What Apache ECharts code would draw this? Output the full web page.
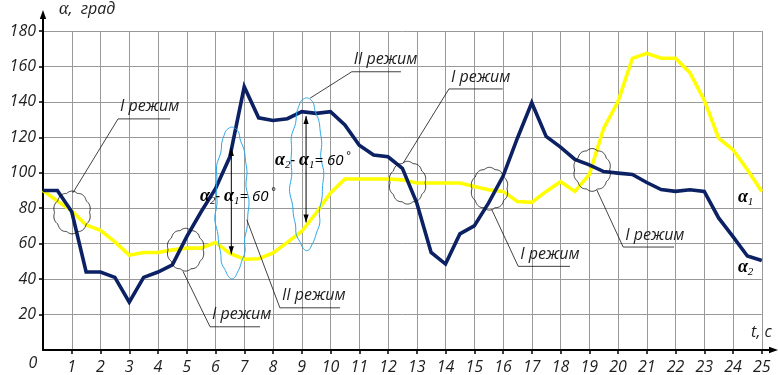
<!DOCTYPE html>
<html>
<head>
<meta charset="utf-8">
<script src="https://cdn.jsdelivr.net/npm/echarts@6/dist/echarts.min.js"></script>
<style>
  html, body { margin: 0; padding: 0; background: #fff; }
  #chart { width: 778px; height: 375px; }
</style>
</head>
<body>
<div id="chart"></div>
<script>
// time, s
const timeSec = [
  0, 0.5, 1, 1.5, 2, 2.5, 3, 3.5, 4, 4.5,
  5, 5.5, 6, 6.5, 7, 7.5, 8, 8.5, 9, 9.5,
  10, 10.5, 11, 11.5, 12, 12.5, 13, 13.5, 14, 14.5,
  15, 15.5, 16, 16.5, 17, 17.5, 18, 18.5, 19, 19.5,
  20, 20.5, 21, 21.5, 22, 22.5, 23, 23.5, 24, 24.5, 25
];

// α1, degrees (yellow)
const alpha1 = [
  90, 84, 78.5, 70.5, 67.5, 61, 53.5, 55, 55, 56.5,
  57.5, 57.5, 60.7, 54.5, 51.2, 51.5, 54.8, 60.7, 67, 77.3,
  88.6, 96.5, 96.5, 96.5, 96.5, 96, 94.2, 94.2, 94.2, 94.2,
  92.3, 90.4, 89.5, 83.8, 83.3, 89.5, 95, 89.5, 98.9, 125,
  140.2, 164.6, 167.4, 164.6, 164.6, 156.5, 141, 119.5, 113, 101.7, 89.5
];

// α2, degrees (navy)
const alpha2 = [
  90, 90, 78, 44, 44, 41, 27, 41, 44, 48,
  64, 78, 91, 109, 148.5, 131, 129.5, 130.5, 134.5, 133.5,
  134.5, 127, 115.5, 110, 109, 102.5, 83, 55, 48.5, 65.5,
  70, 83, 98, 119.5, 139.5, 120.5, 114.5, 107.5, 104.5, 100.7,
  99.8, 99, 94.5, 90.5, 89.5, 90.4, 89.5, 74.5, 64, 53, 50.5
];

// operating-mode callouts: underline [tStart, tEnd, value], leader end [t, value]
const modeNotes = [
  { text: 'I режим',  under: [2.61, 4.42, 130.4],  leader: [1.04, 88.7] },
  { text: 'II режим', under: [10.74, 12.45, 157.0], leader: [9.29, 142.1] },
  { text: 'I режим',  under: [14.12, 15.99, 147.3], leader: [12.53, 105.5] },
  { text: 'II режим', under: [8.24, 10.33, 23.8],   leader: [7.09, 73.5] },
  { text: 'I режим',  under: [5.81, 7.55, 13.1],    leader: [4.87, 44.4] },
  { text: 'I режим',  under: [16.53, 18.33, 47.2],  leader: [15.61, 79.2] },
  { text: 'I режим',  under: [20.18, 21.95, 58.1],  leader: [19.26, 90.4] }
];

// crossing points of α1 and α2 circled on the plot [t, value]
const crossMarks = [
  [1.01, 77.6], [4.96, 56.6], [12.68, 94.4], [15.53, 91.0], [19.1, 101.6]
];

// mode II zones [t, centre value, half height]
const modeZones = [
  [6.57, 83.4, 42.8], [9.17, 99.6, 43.1]
];

// α2 − α1 measurement arrows [t, α1 end, difference]
const diffArrows = [
  [6.55, 54, 60], [9.15, 72, 60]
];
const diffLabels = [
  [5.46, 86.7], [8.07, 106.9]
];

const curveLabels = [
  { sub: '1', at: [24.17, 85.9] },
  { sub: '2', at: [24.17, 46.5] }
];

const sans = '"Open Sans", sans-serif';
const serif = '"Liberation Serif", serif';
const ink = '#1e1e1e';

const chart = echarts.init(document.getElementById('chart'), null, { renderer: 'canvas' });

const zip = (xs, ys) => xs.map((x, i) => [x, ys[i]]);

chart.setOption({
  animation: false,
  backgroundColor: '#fff',
  grid: { left: 43, right: 16.25, top: 31, bottom: 24.5, containLabel: false },
  xAxis: {
    type: 'value', min: 0, max: 25, interval: 1,
    axisLine: { lineStyle: { color: '#000', width: 2 } },
    axisTick: { show: true, length: 4, lineStyle: { color: '#000', width: 1.5 } },
    splitLine: { show: true, lineStyle: { color: '#999', width: 1 } },
    axisLabel: {
      showMinLabel: false, margin: 9,
      fontFamily: sans, fontStyle: 'italic', fontSize: 16, color: ink
    },
    name: 't, с', nameLocation: 'end', nameGap: 10,
    nameTextStyle: {
      fontFamily: sans, fontStyle: 'italic', fontSize: 16, color: ink,
      align: 'right', verticalAlign: 'bottom', padding: [0, 0, 10, 0]
    }
  },
  yAxis: {
    type: 'value', min: 0, max: 180, interval: 20,
    axisLine: { show: true, lineStyle: { color: '#000', width: 2 } },
    axisTick: { show: true, length: 4, lineStyle: { color: '#000', width: 1.5 } },
    splitLine: { show: true, lineStyle: { color: '#999', width: 1 } },
    axisLabel: {
      showMinLabel: false, margin: 7,
      fontFamily: sans, fontStyle: 'italic', fontSize: 16, color: ink
    },
    name: '{a|α}{t|,  град}', nameLocation: 'end', nameGap: 13,
    nameTextStyle: {
      align: 'left', padding: [0, 0, 0, 16],
      rich: {
        a: { fontFamily: serif, fontStyle: 'italic', fontSize: 18, color: ink },
        t: { fontFamily: sans, fontStyle: 'italic', fontSize: 16, color: ink }
      }
    }
  },
  series: [
    {
      name: 'α1', type: 'line', data: zip(timeSec, alpha1),
      symbol: 'none', z: 3,
      lineStyle: { color: '#ffff00', width: 3.6, join: 'miter' }
    },
    {
      name: 'α2', type: 'line', data: zip(timeSec, alpha2),
      symbol: 'none', z: 4,
      lineStyle: { color: '#0b2163', width: 3.6, join: 'miter' }
    }
  ]
});

const px = (p) => chart.convertToPixel({ gridIndex: 0 }, p);

// scalloped outline around a point
function cloudOutline(cx, cy, rx, ry, bumps, amp) {
  const pts = [];
  const n = 120;
  for (let i = 0; i <= n; i++) {
    const a = (i / n) * Math.PI * 2;
    const k = 1 + amp * Math.abs(Math.sin(bumps * a / 2));
    pts.push([cx + rx * k * Math.cos(a), cy + ry * k * Math.sin(a)]);
  }
  return pts;
}

// slightly wavy hand-drawn style ellipse
function wavyOutline(cx, cy, rx, ry) {
  const pts = [];
  const n = 160;
  for (let i = 0; i <= n; i++) {
    const a = (i / n) * Math.PI * 2;
    const k = 1 + 0.06 * Math.sin(9 * a + 0.7) + 0.04 * Math.sin(17 * a + 2.1);
    pts.push([cx + rx * k * Math.cos(a), cy + ry * (1 + 0.01 * Math.sin(5 * a)) * Math.sin(a)]);
  }
  return pts;
}

function arrowHead(tip, dir) {
  const L = 8, W = 2.6;
  const [x, y] = tip;
  return [[x, y], [x - W, y - dir * L], [x + W, y - dir * L]];
}

const g = [];

// axis extensions with arrowheads
const o = px([0, 0]);
const yTop = px([0, 180]);
const xEnd = px([25, 0]);
g.push({ type: 'line', shape: { x1: yTop[0], y1: yTop[1], x2: yTop[0], y2: 15 },
  style: { stroke: '#000', lineWidth: 2 }, z: 10 });
g.push({ type: 'polygon', shape: { points: [[yTop[0], 10], [yTop[0] - 3.2, 19], [yTop[0] + 3.2, 19]] },
  style: { fill: '#000' }, z: 10 });
g.push({ type: 'line', shape: { x1: xEnd[0], y1: xEnd[1], x2: 772, y2: xEnd[1] },
  style: { stroke: '#000', lineWidth: 2 }, z: 10 });
g.push({ type: 'polygon', shape: { points: [[778, xEnd[1]], [769, xEnd[1] - 3.2], [769, xEnd[1] + 3.2]] },
  style: { fill: '#000' }, z: 10 });
g.push({ type: 'text', style: { text: '0', x: o[0] - 10, y: o[1] + 13, align: 'center', verticalAlign: 'middle',
  font: 'italic 16px ' + sans, fill: ink }, z: 10 });

// crossing circles
crossMarks.forEach(c => {
  const p = px(c);
  g.push({ type: 'polyline', shape: { points: cloudOutline(p[0], p[1], 17.5, 20, 10, 0.07) },
    style: { stroke: '#111', lineWidth: 0.8, fill: null }, z: 12 });
});

// mode II zones
modeZones.forEach(z => {
  const c = px([z[0], z[1]]);
  const top = px([z[0], z[1] + z[2]]);
  g.push({ type: 'polyline', shape: { points: wavyOutline(c[0], c[1], 16, c[1] - top[1]) },
    style: { stroke: '#2aa7e8', lineWidth: 1, fill: null }, z: 12 });
});

// α2 − α1 arrows
diffArrows.forEach(a => {
  const b = px([a[0], a[1]]);
  const t = px([a[0], a[1] + a[2]]);
  g.push({ type: 'line', shape: { x1: b[0], y1: b[1], x2: t[0], y2: t[1] },
    style: { stroke: '#000', lineWidth: 1 }, z: 13 });
  g.push({ type: 'polygon', shape: { points: arrowHead(b, 1) }, style: { fill: '#000' }, z: 13 });
  g.push({ type: 'polygon', shape: { points: arrowHead(t, -1) }, style: { fill: '#000' }, z: 13 });
});

const diffRich = {
  a: { fontFamily: serif, fontStyle: 'italic', fontWeight: 'bold', fontSize: 18, fill: '#000', lineHeight: 20 },
  s: { fontFamily: serif, fontStyle: 'italic', fontSize: 11, fill: '#000', verticalAlign: 'bottom', lineHeight: 20 },
  t: { fontFamily: sans, fontStyle: 'italic', fontSize: 15, fill: '#000', lineHeight: 20 },
  o: { fontFamily: sans, fontSize: 11, fill: '#000', verticalAlign: 'top', lineHeight: 20 }
};
diffLabels.forEach(d => {
  const p = px(d);
  g.push({ type: 'text', style: {
    text: '{a|α}{s|2}{t|- }{a|α}{s|1}{t|= 60}{o| °}',
    x: p[0], y: p[1], align: 'left', verticalAlign: 'middle', rich: diffRich
  }, z: 14 });
});

// mode callouts
modeNotes.forEach(n => {
  const a = px([n.under[0], n.under[2]]);
  const b = px([n.under[1], n.under[2]]);
  const e = px(n.leader);
  g.push({ type: 'polyline', shape: { points: [[e[0], e[1]], [a[0], a[1]], [b[0], b[1]]] },
    style: { stroke: '#111', lineWidth: 0.8, fill: null }, z: 12 });
  g.push({ type: 'text', style: {
    text: n.text, x: a[0] + 2, y: a[1] - 12, align: 'left', verticalAlign: 'middle',
    font: 'italic 16px ' + sans, fill: ink
  }, z: 14 });
});

// curve names
curveLabels.forEach(c => {
  const p = px(c.at);
  g.push({ type: 'text', style: {
    text: '{a|α}{s|' + c.sub + '}', x: p[0], y: p[1], align: 'left', verticalAlign: 'middle', rich: diffRich
  }, z: 14 });
});

chart.setOption({ graphic: g });
</script>
</body>
</html>
